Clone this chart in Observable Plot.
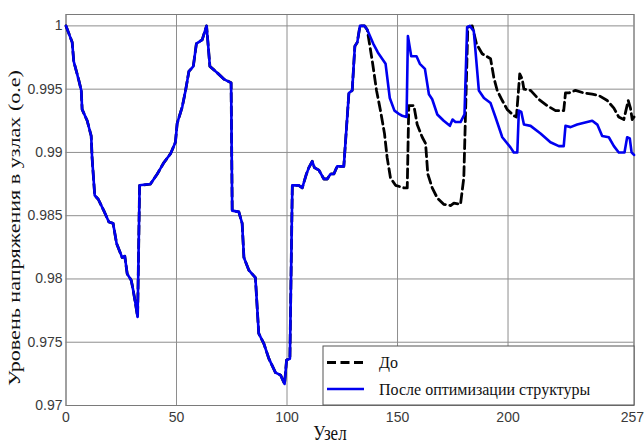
<!DOCTYPE html>
<html>
<head>
<meta charset="utf-8">
<script src="https://cdn.jsdelivr.net/npm/d3@7"></script>
<script src="https://cdn.jsdelivr.net/npm/@observablehq/plot@0.6"></script>
<style>
  html, body { margin: 0; padding: 0; background: #fff; }
  #chart svg { display: block; }
</style>
</head>
<body>
<div id="chart"></div>
<script>
// Shared part of both curves (identical before node ~136)
const sharedNode = [0, 2.8, 3.5, 5.8, 6.9, 7.3, 9.6, 11.4, 11.8, 13.0, 14.6, 17.1, 19.4, 21.3, 22.9, 25.4, 26.6, 27.7, 29.5, 30.2, 31.4, 32.4, 33.3, 38.2, 41.3, 44.3, 47.3, 49.5, 50.3, 52.6, 54.1, 55.6, 57.6, 59.0, 61.6, 63.6, 65.1, 68.4, 71.4, 74.7, 75.2, 78.2, 79.7, 80.5, 82.7, 85.7, 87.2, 89.5, 91.8, 94.8, 97.1, 98.9, 99.8, 101.3, 102.4, 105.3, 106.9, 108.8, 109.9, 111.4, 112.4, 114.4, 116.7, 118.2, 119.7, 121.2, 122.7, 125.7, 128.0, 129.5, 130.7, 131.8, 133.0, 135.1, 136.3];
const sharedV = [1.0000, 0.9987, 0.9972, 0.9957, 0.9949, 0.9934, 0.9925, 0.9913, 0.9896, 0.9866, 0.9863, 0.9854, 0.9845, 0.9844, 0.9828, 0.9817, 0.9818, 0.9804, 0.9799, 0.9793, 0.9781, 0.9770, 0.9874, 0.9875, 0.9883, 0.9892, 0.9899, 0.9908, 0.9923, 0.9936, 0.9949, 0.9964, 0.9968, 0.9986, 0.9989, 1.0000, 0.9968, 0.9963, 0.9958, 0.9955, 0.9854, 0.9853, 0.9844, 0.9817, 0.9807, 0.9801, 0.9757, 0.9749, 0.9737, 0.9726, 0.9724, 0.9717, 0.9736, 0.9737, 0.9874, 0.9874, 0.9872, 0.9883, 0.9888, 0.9893, 0.9888, 0.9886, 0.9879, 0.9879, 0.9883, 0.9883, 0.9889, 0.9889, 0.9947, 0.9949, 0.9984, 0.9987, 1.0000, 1.0000, 0.9997];

// "До" (before) tail
const beforeNode = [138.6, 140.5, 142.3, 144.1, 145.3, 146.8, 149.1, 152.9, 154.4, 155.1, 157.4, 158.9, 161.2, 162.7, 163.7, 165.7, 168.0, 170.9, 174.0, 175.5, 178.5, 180.0, 181.2, 181.8, 183.8, 185.7, 188.3, 192.1, 193.6, 195.1, 197.4, 199.6, 202.6, 203.8, 205.3, 206.4, 207.2, 210.2, 213.9, 217.7, 221.5, 225.2, 226.0, 227.5, 230.5, 234.3, 238.1, 241.1, 244.9, 247.9, 250.1, 252.4, 254.4, 255.4, 256.2, 257.0];
const beforeV = [0.9972, 0.9949, 0.9933, 0.9915, 0.9896, 0.9880, 0.9874, 0.9872, 0.9872, 0.9937, 0.9937, 0.9922, 0.9912, 0.9907, 0.9883, 0.9872, 0.9864, 0.9859, 0.9858, 0.9860, 0.9859, 0.9880, 0.9959, 0.9999, 1.0000, 0.9986, 0.9978, 0.9974, 0.9959, 0.9949, 0.9941, 0.9934, 0.9929, 0.9928, 0.9962, 0.9958, 0.9950, 0.9949, 0.9942, 0.9937, 0.9933, 0.9933, 0.9947, 0.9947, 0.9949, 0.9947, 0.9946, 0.9945, 0.9941, 0.9935, 0.9928, 0.9926, 0.9941, 0.9935, 0.9926, 0.9928];

// "После оптимизации структуры" (after) tail
const afterNode = [139.0, 141.1, 144.6, 146.5, 148.6, 151.0, 152.1, 154.1, 154.7, 156.2, 158.6, 160.1, 162.4, 164.2, 165.7, 168.0, 170.9, 173.7, 174.9, 176.2, 178.5, 180.3, 181.5, 182.7, 184.5, 186.8, 189.1, 192.1, 194.3, 197.4, 201.1, 202.6, 204.2, 204.9, 206.0, 207.2, 210.2, 214.7, 219.2, 223.0, 225.2, 226.0, 228.3, 231.3, 235.8, 238.1, 240.4, 242.6, 245.6, 247.9, 250.1, 252.7, 253.9, 255.1, 255.9, 257.0];
const afterV = [0.9986, 0.9979, 0.9970, 0.9943, 0.9933, 0.9930, 0.9929, 0.9928, 0.9992, 0.9976, 0.9976, 0.9970, 0.9966, 0.9946, 0.9942, 0.9930, 0.9925, 0.9921, 0.9926, 0.9924, 0.9924, 0.9930, 0.9999, 1.0000, 0.9996, 0.9949, 0.9943, 0.9939, 0.9928, 0.9912, 0.9904, 0.9900, 0.9900, 0.9933, 0.9932, 0.9922, 0.9921, 0.9915, 0.9908, 0.9905, 0.9905, 0.9921, 0.9920, 0.9922, 0.9924, 0.9925, 0.9922, 0.9913, 0.9912, 0.9905, 0.9900, 0.9900, 0.9912, 0.9911, 0.9900, 0.9898];

const xTicks = [0, 50, 100, 150, 200, 257];
const yTicks = [0.97, 0.975, 0.98, 0.985, 0.99, 0.995, 1];
const seriesNames = ["До", "После оптимизации структуры"];
const xLabel = "Узел";
const yLabel = "Уровень напряжения в узлах (о.е)";

const zip = (xs, ys) => xs.map((x, i) => ({node: x, v: ys[i]}));
const before = zip(sharedNode.concat(beforeNode), sharedV.concat(beforeV));
const after = zip(sharedNode.concat(afterNode), sharedV.concat(afterV));

const W = 644, H = 443;
const mL = 65.5, mR = 10.5, mT = 14, mB = 38;
const gridColor = "#8e8e8e";
const tickFont = "'Liberation Sans', Arial, sans-serif";
const serif = '"Liberation Serif", "DejaVu Serif", "Times New Roman", serif';

const chart = Plot.plot({
  width: W,
  height: H,
  marginLeft: mL,
  marginRight: mR,
  marginTop: mT,
  marginBottom: mB,
  style: {background: "#fff", overflow: "visible"},
  x: {domain: [0, 257], ticks: xTicks},
  y: {domain: [0.97, 1.0009], ticks: yTicks},
  marks: [
    Plot.gridX(xTicks, {stroke: gridColor, strokeOpacity: 1, strokeWidth: 1}),
    Plot.gridY(yTicks, {stroke: gridColor, strokeOpacity: 1, strokeWidth: 1}),
    Plot.frame({stroke: "#7a7a7a", strokeWidth: 1}),
    Plot.line(before, {x: "node", y: "v", stroke: "#000", strokeWidth: 2.8, strokeDasharray: "9,4.5"}),
    Plot.line(after, {x: "node", y: "v", stroke: "#0000f0", strokeWidth: 2.6}),
    Plot.axisX(xTicks, {tickSize: 0, tickPadding: 7, fontSize: 14, fill: "#3a3a3a", fontFamily: tickFont, label: null, tickFormat: d => String(d)}),
    Plot.axisY(yTicks, {tickSize: 0, tickPadding: 3.5, fontSize: 14, fill: "#3a3a3a", fontFamily: tickFont, label: null, tickFormat: d => String(d)})
  ]
});

document.getElementById("chart").appendChild(chart);

const svg = d3.select(chart);
// keep the last x tick label ("257") inside the picture, as in the reference
svg.selectAll("text").filter(function() { return this.textContent === "257"; })
  .attr("text-anchor", "end").attr("dx", 10);

function serifText(sel, size) {
  return sel.attr("font-family", serif).style("font-family", serif)
    .attr("font-size", size).style("font-size", size + "px")
    .attr("fill", "#111");
}

// Axis labels (the reference is slightly stretched vertically)
serifText(svg.append("text"), 17)
  .attr("transform", "translate(19.5,228) scale(1,1.3) rotate(-90)")
  .attr("text-anchor", "middle")
  .text(yLabel);
serifText(svg.append("text"), 17)
  .attr("transform", "translate(330,440) scale(1,1.2)")
  .attr("text-anchor", "middle")
  .text(xLabel);

// Legend
const lg = svg.append("g").attr("text-anchor", "start");
lg.append("rect")
  .attr("x", 323).attr("y", 346).attr("width", 311).attr("height", 59)
  .attr("fill", "#fff").attr("stroke", "#555").attr("stroke-width", 1);
lg.append("line")
  .attr("x1", 327).attr("x2", 364).attr("y1", 362.5).attr("y2", 362.5)
  .attr("stroke", "#000").attr("stroke-width", 2.8).attr("stroke-dasharray", "9,4.5");
lg.append("line")
  .attr("x1", 327).attr("x2", 364).attr("y1", 389).attr("y2", 389)
  .attr("stroke", "#0000f0").attr("stroke-width", 2.6);
serifText(lg.append("text"), 16)
  .attr("x", 379).attr("y", 368).attr("text-anchor", "start")
  .text(seriesNames[0]);
serifText(lg.append("text"), 16)
  .attr("x", 379).attr("y", 395).attr("text-anchor", "start")
  .text(seriesNames[1]);
</script>
</body>
</html>
